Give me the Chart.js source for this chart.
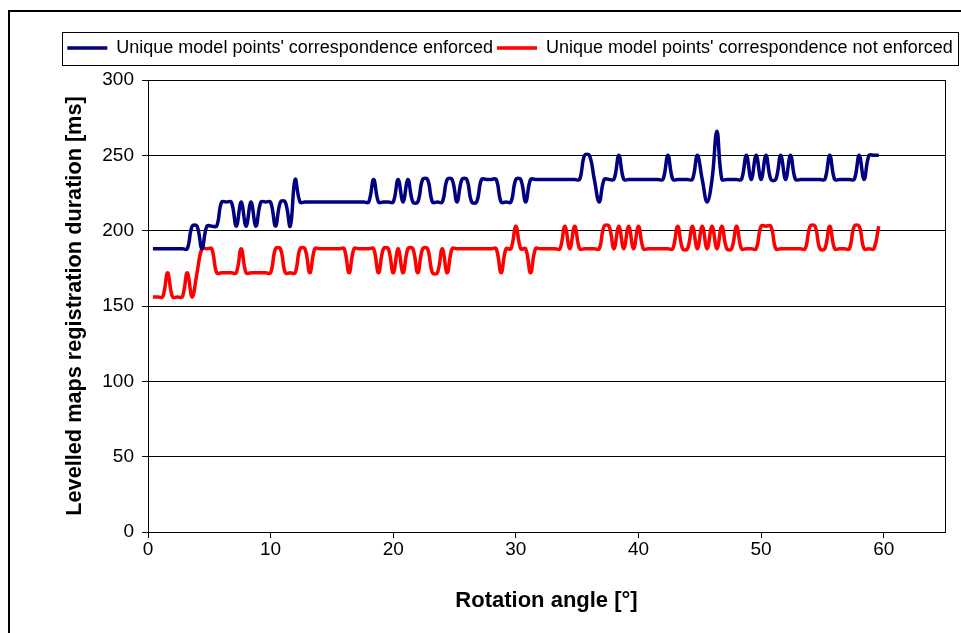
<!DOCTYPE html>
<html>
<head>
<meta charset="utf-8">
<script src="https://cdn.jsdelivr.net/npm/chart.js@4.4.0/dist/chart.umd.min.js"></script>
<style>
  html, body { margin: 0; padding: 0; background: #fff; }
  #wrap { position: relative; width: 961px; height: 633px; }
</style>
</head>
<body>
<div id="wrap"><canvas id="myChart"></canvas></div>
<script>
// sampling of the rotation angle (degrees)
const angleStart = 0.4;
const angleStep = 0.4;

// registration duration [ms], one row = two degrees
const enforced = [
  188,188,188,188,188,  188,188,188,203,203,  188,203,203,203,219,
  219,219,203,219,203,  219,203,219,219,219,  203,219,219,203,234,
  219,219,219,219,219,  219,219,219,219,219,  219,219,219,219,219,
  234,219,219,219,219,  234,219,234,219,219,  234,234,219,219,219,
  234,234,219,234,234,  219,219,234,234,234,  234,219,219,219,234,
  234,219,234,234,234,  234,234,234,234,234,  234,234,234,250,250,
  234,219,234,234,234,  250,234,234,234,234,  234,234,234,234,234,
  250,234,234,234,234,  234,250,234,219,234,  266,234,234,234,234,
  234,250,234,250,234,  250,234,234,250,234,  250,234,234,234,234,
  234,234,234,250,234,  234,234,234,234,250,  234,250,250,250
];

const notEnforced = [
  156,156,156,172,156,  156,156,172,156,172,  188,188,188,172,172,
  172,172,172,188,172,  172,172,172,172,172,  188,188,172,172,172,
  188,188,172,188,188,  188,188,188,188,188,  172,188,188,188,188,
  188,172,188,188,172,  188,172,188,188,172,  188,188,172,172,188,
  172,188,188,188,188,  188,188,188,188,188,  188,172,188,188,203,
  188,188,172,188,188,  188,188,188,188,203,  188,203,188,188,188,
  188,188,203,203,188,  203,188,203,188,203,  188,188,188,188,188,
  188,188,203,188,188,  203,188,203,188,203,  188,203,188,188,203,
  188,188,188,188,203,  203,203,188,188,188,  188,188,188,188,203,
  203,188,188,203,188,  188,188,188,203,203,  188,188,188,203
];

const seriesNames = [
  "Unique model points' correspondence enforced",
  "Unique model points' correspondence not enforced"
];

const xMin = 0, xMax = 65, xStep = 10;
const yMin = 0, yMax = 300, yStep = 50;

const toPoints = arr => arr.map((v, i) => ({ x: angleStart + i * angleStep, y: v }));

const FONT = "'Liberation Sans', Arial, sans-serif";

// borders of the chart box, the legend box and the plot area
const framePlugin = {
  id: 'frame',
  afterLayout(chart) {
    const lg = chart.legend;
    lg.left = 58; lg.right = 962; lg.width = 904;
    lg.top = 35; lg.bottom = 61; lg.height = 26;
  },
  afterDraw(chart) {
    const ctx = chart.ctx;
    const a = chart.chartArea;
    ctx.save();
    ctx.strokeStyle = '#000';
    ctx.lineWidth = 2;
    ctx.beginPath();
    ctx.moveTo(9, 640);
    ctx.lineTo(9, 11);
    ctx.lineTo(970, 11);
    ctx.stroke();
    ctx.lineWidth = 1;
    ctx.strokeRect(62.5, 32.5, 896, 33);
    ctx.beginPath();
    ctx.moveTo(Math.round(a.right) + 0.5, a.top);
    ctx.lineTo(Math.round(a.right) + 0.5, a.bottom);
    ctx.stroke();
    ctx.restore();
  }
};

const myChartRef = document.getElementById('myChart').getContext('2d');

new Chart(myChartRef, {
  type: 'line',
  data: {
    datasets: [
      {
        label: seriesNames[0],
        data: toPoints(enforced),
        borderColor: '#000080',
        backgroundColor: '#000080',
        borderWidth: 3.5,
        pointRadius: 0,
        tension: 0.4
      },
      {
        label: seriesNames[1],
        data: toPoints(notEnforced),
        borderColor: '#ff0000',
        backgroundColor: '#ff0000',
        borderWidth: 3.5,
        pointRadius: 0,
        tension: 0.4
      }
    ]
  },
  options: {
    responsive: true,
    maintainAspectRatio: false,
    animation: false,
    layout: { padding: { top: 48, right: 16, bottom: 10, left: 0 } },
    plugins: {
      legend: {
        display: true,
        position: 'top',
        labels: {
          boxWidth: 40,
          boxHeight: 0,
          padding: 4,
          color: '#000',
          font: { family: FONT, size: 18 }
        }
      },
      tooltip: { enabled: false }
    },
    scales: {
      x: {
        type: 'linear',
        min: xMin,
        max: xMax,
        afterFit: s => { s.height = 91; },
        ticks: {
          stepSize: xStep,
          includeBounds: false,
          padding: 0,
          color: '#000',
          font: { family: FONT, size: 19 }
        },
        grid: { drawOnChartArea: false, tickLength: 6, color: '#000' },
        border: { color: '#000', width: 1 },
        title: {
          display: true,
          text: 'Rotation angle [°]',
          color: '#000',
          font: { family: FONT, size: 22, weight: 'bold' },
          padding: { top: 0, bottom: 9 }
        }
      },
      y: {
        min: yMin,
        max: yMax,
        afterFit: s => { s.width = 148; },
        ticks: {
          stepSize: yStep,
          padding: 8,
          color: '#000',
          font: { family: FONT, size: 19 }
        },
        grid: { tickLength: 6, color: '#000' },
        border: { color: '#000', width: 1 },
        title: {
          display: true,
          text: 'Levelled maps registration duration [ms]',
          color: '#000',
          font: { family: FONT, size: 21.7, weight: 'bold' },
          padding: { top: 62, bottom: 0 }
        }
      }
    }
  },
  plugins: [framePlugin]
});
</script>
</body>
</html>
